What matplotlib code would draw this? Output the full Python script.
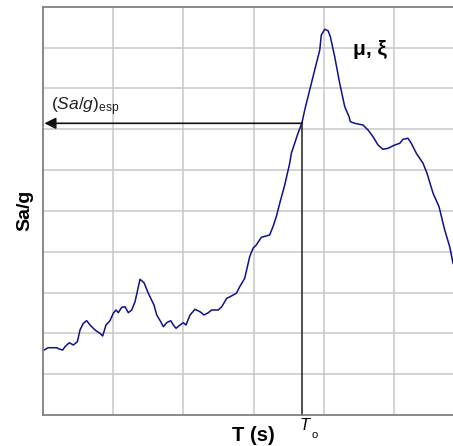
import numpy as np
import matplotlib.pyplot as plt

# spectrum (x: grid units of period, y: grid units of Sa/g)
period = [0.014, 0.075, 0.195, 0.242, 0.281, 0.313, 0.375, 0.432, 0.489, 0.527,
          0.574, 0.622, 0.670, 0.741, 0.812, 0.850, 0.897, 0.954, 1.001, 1.040,
          1.073, 1.121, 1.168, 1.215, 1.264, 1.311, 1.382, 1.439, 1.500, 1.581,
          1.620, 1.677, 1.714, 1.762, 1.819, 1.856, 1.895, 1.952, 1.999, 2.037,
          2.094, 2.165, 2.236, 2.293, 2.355, 2.403, 2.497, 2.546, 2.617, 2.664,
          2.754, 2.802, 2.873, 2.944, 2.991, 3.038, 3.110, 3.229, 3.276, 3.323,
          3.372, 3.443, 3.514, 3.537, 3.632, 3.689, 3.728, 3.799, 3.870, 3.942,
          3.964, 4.013, 4.060, 4.093, 4.155, 4.226, 4.298, 4.359, 4.378, 4.440,
          4.558, 4.630, 4.701, 4.772, 4.843, 4.915, 5.010, 5.081, 5.128, 5.199,
          5.246, 5.318, 5.413, 5.470, 5.556, 5.641, 5.722, 5.793, 5.840]
sa_g = [1.592, 1.648, 1.648, 1.609, 1.592, 1.673, 1.771, 1.714, 1.795, 2.082,
        2.246, 2.310, 2.204, 2.082, 2.001, 1.935, 2.204, 2.310, 2.491, 2.572,
        2.506, 2.638, 2.652, 2.506, 2.572, 2.775, 3.324, 3.240, 2.981, 2.694,
        2.449, 2.285, 2.163, 2.261, 2.310, 2.204, 2.123, 2.204, 2.261, 2.204,
        2.449, 2.589, 2.530, 2.449, 2.506, 2.572, 2.572, 2.652, 2.858, 2.897,
        2.981, 3.142, 3.348, 3.877, 4.083, 4.164, 4.352, 4.409, 4.612, 4.857,
        5.185, 5.633, 6.165, 6.409, 6.899, 7.159, 7.470, 7.960, 8.450, 8.939,
        9.307, 9.447, 9.412, 9.265, 8.775, 8.124, 7.551, 7.306, 7.183, 7.144,
        7.103, 6.980, 6.816, 6.613, 6.507, 6.532, 6.613, 6.654, 6.752, 6.777,
        6.654, 6.409, 6.165, 5.920, 5.430, 5.102, 4.531, 4.122, 3.715]

T0 = 3.689
sa_esp = 7.144

plt.rcParams['font.family'] = ['Liberation Sans', 'DejaVu Sans']
plt.rcParams['mathtext.fontset'] = 'custom'
plt.rcParams['mathtext.rm'] = 'Liberation Sans'
plt.rcParams['mathtext.it'] = 'Liberation Sans:italic'

fig = plt.figure(figsize=(4.53, 4.46), dpi=100)
ax = fig.add_axes([43 / 453, 31 / 446, 1 - 43 / 453, 408.3 / 446])

ax.set_xlim(0, 5.84)
ax.set_ylim(0, 10)
ax.set_xticks(np.arange(1, 6))
ax.set_yticks(np.arange(1, 10))
ax.tick_params(length=0, labelbottom=False, labelleft=False)
ax.grid(True, color='#c8c8c8', lw=1.1)
ax.set_axisbelow(True)
for side in ['left', 'bottom', 'top']:
    ax.spines[side].set_color('#808080')
    ax.spines[side].set_linewidth(1.3)
ax.spines['right'].set_visible(False)

ax.plot(period, sa_g, color='#10108a', lw=1.1)

# reading of the design value
ax.plot([T0, T0], [0, sa_esp], color='#202020', lw=1.1, clip_on=False)
ax.annotate('', xy=(0.02, sa_esp), xytext=(T0, sa_esp),
            arrowprops=dict(arrowstyle='-|>', color='#101010', lw=1.2,
                            mutation_scale=17, shrinkA=0, shrinkB=0))

ax.text(0.12, 7.47, r'$(Sa/g)_{\mathrm{esp}}$',
        fontsize=12.5, color='#202020', va='baseline', ha='left')
ax.text(4.66, 8.96, 'μ, ξ', fontsize=15, fontweight='bold', ha='center', va='center')

ax.set_ylabel('Sa/g', fontsize=14, fontweight='bold', labelpad=7)
ax.text(3.0, -0.5, 'T (s)', fontsize=14.5, fontweight='bold', ha='center', va='center')
ax.text(3.72, -0.25, 'T', fontsize=12, style='italic', ha='center', va='center')
ax.text(3.875, -0.5, 'o', fontsize=8, ha='center', va='center')

fig.savefig('out.png', dpi=100)
